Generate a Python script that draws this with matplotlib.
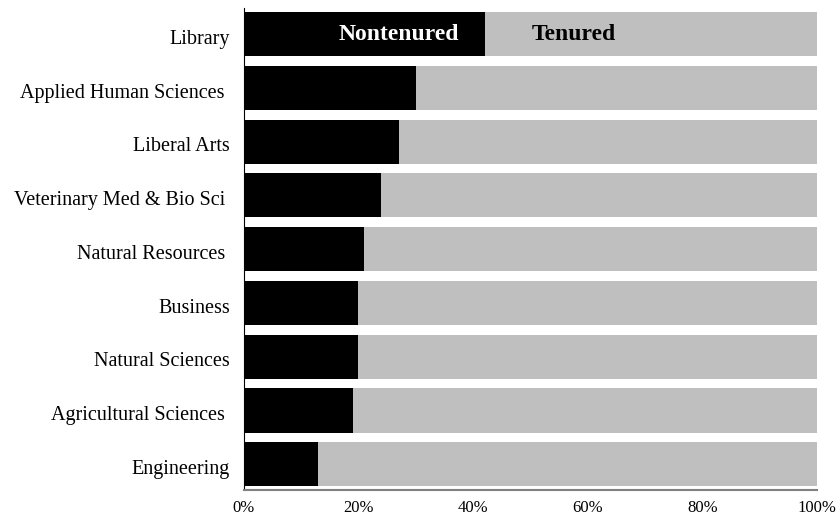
import matplotlib.pyplot as plt
import matplotlib.transforms as mtransforms
from matplotlib.ticker import PercentFormatter

# === Daten ===
colleges = ["Library", "Applied Human Sciences ", "Liberal Arts", "Veterinary Med & Bio Sci ",
            "Natural Resources ", "Business", "Natural Sciences", "Agricultural Sciences ", "Engineering"]
nontenured = [0.42, 0.30, 0.27, 0.24, 0.21, 0.20, 0.20, 0.19, 0.13]
tenured = [1 - v for v in nontenured]

plt.rcParams["font.family"] = ["Liberation Serif", "DejaVu Serif"]

fig = plt.figure(figsize=(8.38, 5.18), dpi=100)
ax = fig.add_axes([0.291, 0.054, 0.684, 0.931])

y = list(range(len(colleges)))
ax.barh(y, nontenured, height=0.82, color="black")
ax.barh(y, tenured, left=nontenured, height=0.82, color="#bfbfbf")

ax.set_yticks(y)
ax.set_yticklabels(colleges, fontsize=14.5)
ax.set_ylim(len(colleges) - 0.52, -0.49)
ax.set_xlim(0, 1)
ax.set_xticks([0, 0.2, 0.4, 0.6, 0.8, 1.0])
ax.xaxis.set_major_formatter(PercentFormatter(1.0, decimals=0))
ax.tick_params(axis="x", length=0, labelsize=12, pad=7)
ax.tick_params(axis="y", length=0, pad=10)

# Beschriftungen etwas nach unten schieben
offset = mtransforms.ScaledTranslation(0, -2 / 72, fig.dpi_scale_trans)
for lbl in ax.get_yticklabels():
    lbl.set_transform(lbl.get_transform() + offset)

for s in ["top", "right"]:
    ax.spines[s].set_visible(False)
ax.spines["left"].set_color("black")
ax.spines["bottom"].set_color("#808080")
ax.spines["bottom"].set_linewidth(1.5)

# Beschriftung in der obersten Zeile
ax.text(0.27, 0, "Nontenured", color="white", fontsize=17, fontweight="bold", ha="center", va="center")
ax.text(0.576, 0, "Tenured", color="black", fontsize=17, fontweight="bold", ha="center", va="center")

fig.savefig("out.png", dpi=100)
